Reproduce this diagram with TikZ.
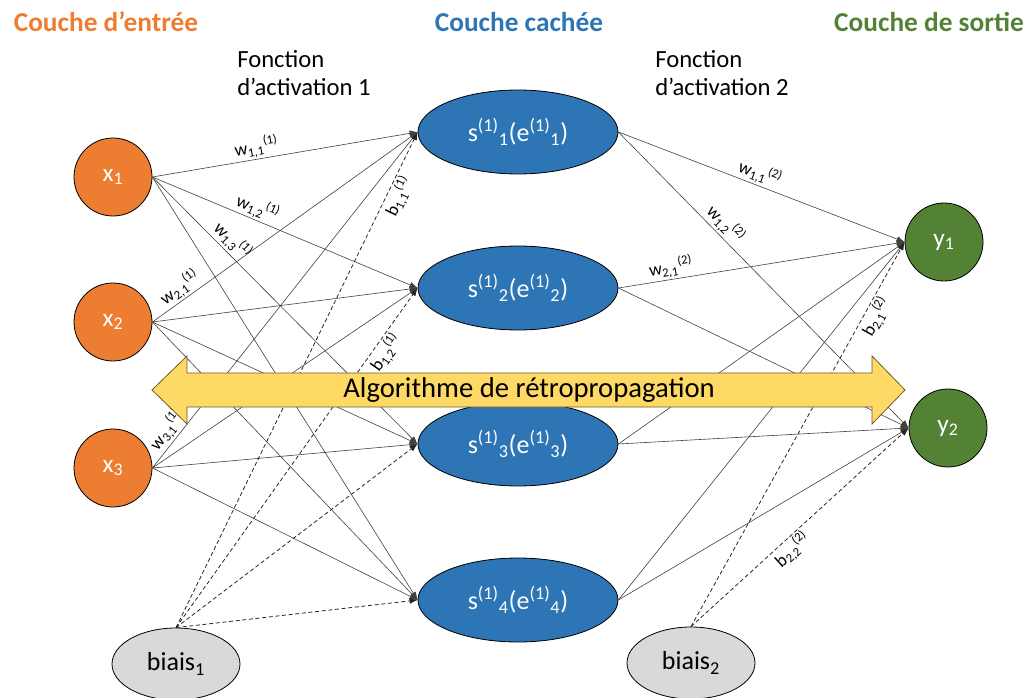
\documentclass[tikz,border=0pt]{standalone}
\usepackage{fontspec}
\setmainfont{Carlito}
\usetikzlibrary{arrows.meta,shapes.geometric}
\definecolor{inorange}{HTML}{ED7D31}
\definecolor{hidblue}{HTML}{2E75B6}
\definecolor{outgreen}{HTML}{548235}
\definecolor{biasgray}{HTML}{D9D9D9}
\definecolor{bpyellow}{HTML}{FFD966}
\definecolor{bpedge}{HTML}{6B5A2A}
\begin{document}
\begin{tikzpicture}[x=0.75pt,y=-0.75pt,
  neuron/.style={circle,draw=black,line width=0.6pt,minimum size=58.5pt,inner sep=0pt,
    text=white,font=\fontsize{19}{22}\selectfont},
  hidden/.style={ellipse,draw=black,line width=0.6pt,fill=hidblue,minimum width=150pt,
    minimum height=63pt,inner sep=0pt,text=white,font=\fontsize{19.5}{22}\selectfont},
  biasnode/.style={ellipse,draw=black,line width=0.6pt,fill=biasgray,minimum width=96pt,
    minimum height=54pt,inner sep=0pt,font=\fontsize{19.5}{22}\selectfont},
  title/.style={font=\bfseries\fontsize{20.5}{24}\selectfont},
  fn/.style={anchor=north west,align=left,inner sep=0pt,font=\fontsize{18.5}{21}\selectfont},
  wire/.style={draw=black!75,line width=0.45pt,-{Latex[length=6pt,width=4.5pt]}},
  biaswire/.style={wire,draw=black!85,line width=0.6pt,dash pattern=on 3pt off 2pt},
  wlab/.style={font=\fontsize{13.5}{15}\selectfont,sloped,inner sep=1pt}
]
\useasboundingbox (0,0) rectangle (1027,698);

% layer titles
\node[title,text=inorange] (tin) at (106,22) {Couche d’entrée};
\node[title,text=hidblue] (thid) at (519,22) {Couche cachée};
\node[title,text=outgreen] (tout) at (929,22) {Couche de sortie};
\node[fn] (fa1) at (237,50) {Fonction\\d’activation 1};
\node[fn] (fa2) at (655,50) {Fonction\\d’activation 2};

% input layer
\node[neuron,fill=inorange] (x1) at (113,177) {x\textsubscript{1}};
\node[neuron,fill=inorange] (x2) at (113,322) {x\textsubscript{2}};
\node[neuron,fill=inorange] (x3) at (113,468) {x\textsubscript{3}};
\node[biasnode] (b1) at (176,664) {biais\textsubscript{1}};

% hidden layer
\foreach \j/\yy in {1/132,2/288,3/444,4/600}
  \node[hidden] (s\j) at (518,\yy)
    {s\textsuperscript{(1)}\textsubscript{\j}(e\textsuperscript{(1)}\textsubscript{\j})};

% output layer
\node[neuron,fill=outgreen] (y1) at (944,242) {y\textsubscript{1}};
\node[neuron,fill=outgreen] (y2) at (948,428) {y\textsubscript{2}};
\node[biasnode] (b2) at (691,663) {biais\textsubscript{2}};

% weights input -> hidden
\foreach \i in {1,2,3}
  \foreach \j in {1,...,4}
    \draw[wire] (x\i.east) -- (s\j.west);
\foreach \j in {1,...,4}
  \draw[biaswire] (b1.north) -- (s\j.west);

% weights hidden -> output
\foreach \j in {1,...,4}
  \foreach \k in {1,2}
    \draw[wire] (s\j.east) -- (y\k.west);
\foreach \k in {1,2}
  \draw[biaswire] (b2.north) -- (y\k.west);

% weight labels
\path (x1.east) -- (s1.west) node[wlab,pos=0.4,above] {w\textsubscript{1,1}\textsuperscript{(1)}};
\path (x1.east) -- (s2.west) node[wlab,pos=0.38,above] {w\textsubscript{1,2}\textsuperscript{(1)}};
\path (x1.east) -- (s3.west) node[wlab,pos=0.27,above] {w\textsubscript{1,3}\textsuperscript{(1)}};
\path (x2.east) -- (s1.west) node[wlab,pos=0.13,above] {w\textsubscript{2,1}\textsuperscript{(1)}};
\path (x3.east) -- (s1.west) node[wlab,pos=0.09,above] {w\textsubscript{3,1}\textsuperscript{(1)}};
\path (b1.north) -- (s1.west) node[wlab,pos=0.88,below] {b\textsubscript{1,1}\textsuperscript{(1)}};
\path (b1.north) -- (s2.west) node[wlab,pos=0.83,below] {b\textsubscript{1,2}\textsuperscript{(1)}};
\path (s1.east) -- (y1.west) node[wlab,pos=0.48,above] {w\textsubscript{1,1}\textsuperscript{(2)}};
\path (s1.east) -- (y2.west) node[wlab,pos=0.34,above] {w\textsubscript{1,2}\textsuperscript{(2)}};
\path (s2.east) -- (y1.west) node[wlab,pos=0.19,above] {w\textsubscript{2,1}\textsuperscript{(2)}};
\path (b2.north) -- (y1.west) node[wlab,pos=0.82,below] {b\textsubscript{2,1}\textsuperscript{(2)}};
\path (b2.north) -- (y2.west) node[wlab,pos=0.43,below] {b\textsubscript{2,2}\textsuperscript{(2)}};

% backpropagation double arrow
\draw[fill=bpyellow,draw=bpedge,line width=0.6pt]
  (152,390) -- (187,356) -- (187,373) -- (872,373) -- (872,356) -- (905,390)
  -- (872,424) -- (872,407) -- (187,407) -- (187,424) -- cycle;
\node[font=\fontsize{21.5}{24}\selectfont] (bp) at (529,390) {Algorithme de rétropropagation};
\end{tikzpicture}
\end{document}
